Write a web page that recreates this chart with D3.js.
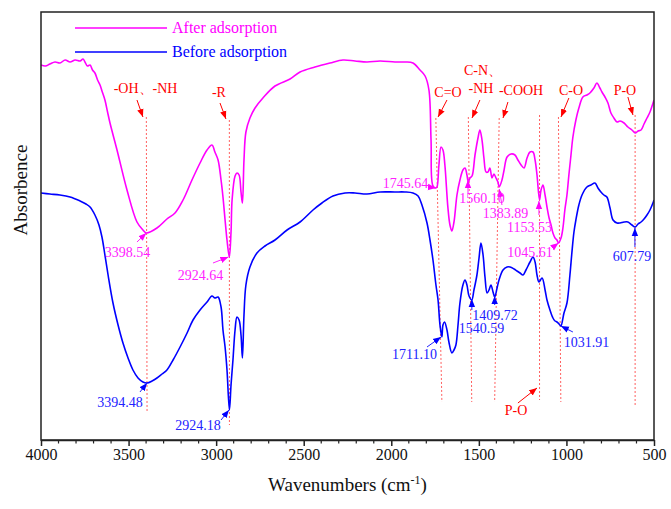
<!DOCTYPE html>
<html>
<head>
<meta charset="utf-8">
<script src="https://cdn.jsdelivr.net/npm/d3@7"></script>
<style>
body { margin: 0; background: #fff; }
text { font-family: "Liberation Serif", "Times New Roman", serif; }
</style>
</head>
<body>
<script>
// spectra: [wavenumber, absorbance (arbitrary units)]
var afterAdsorption = [
  [4000,93.75],[3975,93.5],[3949,94],[3920,94.5],[3892,94.25],[3862,95],[3834,94.5],[3805,95],[3777,94.75],
  [3760,95.25],[3749,94.5],[3735,93.5],[3720,93.75],[3706,92.5],[3692,91.75],[3677,90],[3663,88.75],[3650,87],
  [3635,85],[3620,82],[3606,79.25],[3566,72.5],[3509,62.5],[3452,54.5],[3418,52.5],[3398.54,51.75],[3338,53],
  [3281,55.25],[3235,56.75],[3189,60],[3138,65],[3092,69.25],[3052,72.5],[3024,73.75],[3007,72],[2989,70],
  [2972,65],[2961,60.75],[2949,55],[2938,50],[2924.64,45.75],[2915,52],[2909,60],[2892,66],[2881,66.75],
  [2869,66.25],[2858,62],[2850,59.25],[2841,70],[2830,77],[2807,80.5],[2778,83],[2733,85.5],[2664,88.5],
  [2578,90.25],[2521,92],[2436,93.25],[2350,94.25],[2276,95],[2207,94.75],[2139,94.5],[2064,94.75],[1979,94.5],
  [1922,94.5],[1876,94.25],[1836,92.5],[1807,91],[1785,87.5],[1773,75],[1762,63.5],[1745.64,63],[1739,63.25],
  [1728,68.75],[1716,73.25],[1705,72.5],[1694,68.75],[1677,58.25],[1665,53.75],[1654,52.25],[1642,54.5],
  [1625,61.25],[1608,65],[1591,67.5],[1579,68],[1568,66.25],[1560.10,64.5],[1551,65.5],[1539,66],[1522,71.25],
  [1505,75.5],[1494,77.5],[1482,75],[1471,70.5],[1459,67],[1448,67],[1437,68],[1425,65.5],[1414,66.5],
  [1402,65.5],[1391,64.5],[1383.89,63.25],[1368,65],[1356,67.5],[1339,70.75],[1316,71.5],[1294,71.25],
  [1277,70],[1259,68.75],[1242,68],[1225,70.5],[1208,72],[1191,72],[1179,70],[1168,66.25],[1153.53,60],
  [1145,62.5],[1134,63.75],[1122,61.25],[1111,58.25],[1099,55.5],[1088,53.75],[1077,51.75],[1065,50.5],
  [1054,50],[1045.61,49.25],[1031,50.5],[1020,53],[1009,57.5],[997,61.25],[986,66.25],[974,71.25],[963,75.75],
  [946,80],[929,83],[906,85.75],[883,86.25],[866,86.75],[843,88],[826,89.25],[809,88],[797,87],[780,85.75],
  [763,84.25],[746,81.75],[729,80.5],[711,79.5],[694,79.75],[671,79.25],[649,78.25],[626,77.5],[607,76.75],
  [591,77.25],[574,77.5],[557,79],[540,80.5],[523,82],[511,83.5],[500,85]
]

var beforeAdsorption = [
  [4000,61.75],[3949,61.5],[3892,61.25],[3834,60.75],[3777,59.75],[3743,59],[3720,58.25],[3692,56.25],
  [3669,53.75],[3652,50.75],[3635,46.25],[3617,41.25],[3589,34.25],[3560,28.75],[3532,24.25],[3503,20.5],
  [3475,17.5],[3446,15.5],[3418,14.5],[3394.48,14.25],[3366,14.75],[3338,15.5],[3309,16.5],[3281,17.5],
  [3246,20],[3206,23.25],[3166,26.75],[3132,30],[3092,32.5],[3052,34.5],[3024,36],[3007,35.5],[2989,35.75],
  [2972,33.25],[2961,27.5],[2949,23.25],[2938,17.5],[2924.18,7.5],[2915,13.75],[2904,20],[2892,27.5],
  [2881,30.75],[2869,30],[2858,26.25],[2850,20.5],[2841,31.25],[2830,38.75],[2807,43.25],[2767,46.75],
  [2721,48.5],[2664,50],[2595,52.5],[2521,54.5],[2447,57.5],[2396,59.25],[2333,61],[2264,61.75],[2207,61.75],
  [2139,61.5],[2064,62],[1979,62],[1922,62],[1876,61.75],[1847,61],[1825,58.75],[1796,54.25],[1779,50],
  [1762,45],[1745,38.75],[1733,35],[1722,28.75],[1711.10,25.75],[1705,28.75],[1696,29.5],[1682,27.5],
  [1671,24.5],[1654,21.75],[1642,22.5],[1631,23.75],[1619,28.75],[1608,34.25],[1591,38.75],[1579,40],
  [1568,38.75],[1556,36],[1540.59,35],[1528,37.5],[1511,41.25],[1499,45.5],[1488,49.25],[1476,46.25],
  [1465,40.75],[1453,36.75],[1442,37.5],[1431,38.75],[1419,37],[1409.72,35.75],[1396,38],[1385,40],
  [1362,42.5],[1339,43.25],[1322,43.25],[1299,42.75],[1282,42.25],[1265,41.75],[1248,41.25],[1231,42.5],
  [1208,44.5],[1191,45.75],[1179,44.5],[1168,41.25],[1157,39.5],[1139,40.5],[1122,37.5],[1111,35],
  [1094,32.5],[1077,30.5],[1065,29.75],[1054,29.5],[1042,29],[1031.91,28.5],[1014,31.75],[997,34.25],
  [980,41.25],[969,46.75],[957,52],[946,55],[929,58.75],[911,61.25],[883,63.25],[860,63.75],[837,64.25],
  [820,63],[803,62],[786,61.25],[769,60.75],[751,58],[734,55],[711,54.25],[694,54.25],[671,54.5],[649,54.5],
  [626,53.75],[607.79,53.25],[591,54],[574,54.5],[557,55.25],[540,56.25],[523,57.5],[506,59.25],[500,60]
]

var xTickValues = [4000, 3500, 3000, 2500, 2000, 1500, 1000, 500]
var xMinorTicks = d3.range(4000, 499, -100)

// dashed guide lines: after-adsorption band (top) to before-adsorption band (bottom)
var bandTopWn = [3398.54, 2924.64, 1745.64, 1560.10, 1383.89, 1153.53, 1045.61, 607.79]
var bandBottomWn = [3394.48, 2924.18, 1711.10, 1540.59, 1409.72, 1153.53, 1031.91, 607.79]
var bandTopAbs = [80.75, 80, 80.5, 80.75, 80.5, 81.25, 80.75, 81.25]
var bandBottomAbs = [6.75, 3.75, 9.5, 9.5, 9.5, 10, 9.5, 8.25]

// functional group labels (red)
var groupLabels = [
  { text: "-OH\u3001-NH", wn: 3403, abs: 86.75, from: [3452, 85], to: [3418, 80.75] },
  { text: "-R", wn: 2984, abs: 85.75, from: [2978, 84.25], to: [2944, 80.25] },
  { text: "C=O", wn: 1676, abs: 85.75, from: [1682, 85], to: [1733, 80.75] },
  { text: "C-N\u3001", wn: 1476, abs: 91.25 },
  { text: "-NH", wn: 1488, abs: 86.75, from: [1494, 85], to: [1539, 80.5] },
  { text: "-COOH", wn: 1259, abs: 86.25, from: [1334, 84.5], to: [1362, 80.5] },
  { text: "C-O", wn: 974, abs: 86.25, from: [986, 85.5], to: [1031, 80.75] },
  { text: "P-O", wn: 666, abs: 86.25, from: [649, 85.75], to: [620, 81.25] },
  { text: "P-O", wn: 1288, abs: 6.25, from: [1277, 9.25], to: [1168, 13] }
]

// peak value labels
var afterPeakLabels = [
  { text: "3398.54", wn: 3506, abs: 45.75, from: [3452, 49.5], to: [3398.54, 51.75] },
  { text: "2924.64", wn: 3089, abs: 40, from: [3018, 44.25], to: [2930, 45.75] },
  { text: "1745.64", wn: 1919, abs: 63, from: [1790, 63.25], to: [1745.64, 63] },
  { text: "1560.10", wn: 1482, abs: 59.25, from: [1562, 61.75], to: [1562, 65] },
  { text: "1383.89", wn: 1348, abs: 55.5, from: [1368, 58.75], to: [1384, 62.75] },
  { text: "1153.53", wn: 1211, abs: 52, from: [1157, 56.25], to: [1157, 59.75] },
  { text: "1045.61", wn: 1208, abs: 45.75, from: [1083, 48], to: [1045.61, 49.25] }
]
var beforePeakLabels = [
  { text: "3394.48", wn: 3549, abs: 8.25, from: [3435, 12], to: [3394.48, 14.25] },
  { text: "2924.18", wn: 3104, abs: 2.5, from: [2972, 5], to: [2927, 7.5] },
  { text: "1711.10", wn: 1867, abs: 20.25, from: [1796, 23.25], to: [1716, 25.75] },
  { text: "1540.59", wn: 1485, abs: 26.75, from: [1540, 32.5], to: [1540, 35.25] },
  { text: "1409.72", wn: 1408, abs: 30, from: [1409.72, 33.75], to: [1409.72, 36] },
  { text: "1031.91", wn: 885, abs: 23.25, from: [963, 27], to: [1031.91, 28.5] },
  { text: "607.79", wn: 626, abs: 44.75, from: [609, 48.25], to: [609, 53] }
]

var seriesNames = ["After adsorption", "Before adsorption"]
var seriesColors = ["#ff00ff", "#0000ff"]

var w = 671;
var h = 509;
var plotLeft = 41, plotRight = 654, plotTop = 12, plotBottom = 440;

var xScale = d3.scaleLinear().domain([4000, 500]).range([plotLeft, plotRight])
var yScale = d3.scaleLinear().domain([0, 107]).range([plotBottom, plotTop])

var svg = d3.select("body").append("svg")
  .attr("width", w)
  .attr("height", h)

// arrow heads
var defs = svg.append("defs")
var arrowColors = { red: "#ff0000", after: "#ff00ff", before: "#0000ff" }
Object.keys(arrowColors).forEach(function(k) {
  defs.append("marker")
    .attr("id", "arrow-" + k)
    .attr("viewBox", "0 0 10 10")
    .attr("refX", 10)
    .attr("refY", 5)
    .attr("markerUnits", "userSpaceOnUse")
    .attr("markerWidth", 8)
    .attr("markerHeight", 8)
    .attr("orient", "auto")
    .append("path")
    .attr("d", "M0,1 L10,5 L0,9 z")
    .attr("fill", arrowColors[k])
})

svg.append("clipPath").attr("id", "plot-clip")
  .append("rect")
  .attr("x", plotLeft).attr("y", plotTop)
  .attr("width", plotRight - plotLeft).attr("height", plotBottom - plotTop)

// dashed guide lines
var guides = svg.append("g")
guides.selectAll("line")
  .data(bandTopWn)
  .enter()
  .append("line")
  .attr("x1", function(d) { return xScale(d) })
  .attr("y1", function(d, i) { return yScale(bandTopAbs[i]) })
  .attr("x2", function(d, i) { return xScale(bandBottomWn[i]) })
  .attr("y2", function(d, i) { return yScale(bandBottomAbs[i]) })
  .attr("stroke", "#ff6060")
  .attr("stroke-width", 1)
  .attr("stroke-dasharray", "2,2")

// spectra
var line = d3.line()
  .x(function(d) { return xScale(d[0]) })
  .y(function(d) { return yScale(d[1]) })
  .curve(d3.curveCatmullRom.alpha(0.5))

svg.append("g").attr("clip-path", "url(#plot-clip)")
  .selectAll("path")
  .data([afterAdsorption, beforeAdsorption])
  .enter()
  .append("path")
  .attr("d", line)
  .attr("fill", "none")
  .attr("stroke", function(d, i) { return seriesColors[i] })
  .attr("stroke-width", 1.6)
  .attr("stroke-linejoin", "round")

// labels with arrows
function drawLabels(data, color, marker) {
  var g = svg.append("g")
  g.selectAll("line")
    .data(data.filter(function(d) { return d.from }))
    .enter()
    .append("line")
    .attr("x1", function(d) { return xScale(d.from[0]) })
    .attr("y1", function(d) { return yScale(d.from[1]) })
    .attr("x2", function(d) { return xScale(d.to[0]) })
    .attr("y2", function(d) { return yScale(d.to[1]) })
    .attr("stroke", color)
    .attr("stroke-width", 1)
    .attr("marker-end", "url(#arrow-" + marker + ")")
  g.selectAll("text")
    .data(data)
    .enter()
    .append("text")
    .attr("x", function(d) { return xScale(d.wn) })
    .attr("y", function(d) { return yScale(d.abs) })
    .attr("text-anchor", "middle")
    .attr("font-size", 14)
    .attr("fill", color)
    .text(function(d) { return d.text })
}
drawLabels(groupLabels, "#ff0000", "red")
drawLabels(afterPeakLabels, "#ff22ff", "after")
drawLabels(beforePeakLabels, "#2222ff", "before")

// frame
svg.append("rect")
  .attr("x", plotLeft).attr("y", plotTop)
  .attr("width", plotRight - plotLeft).attr("height", plotBottom - plotTop)
  .attr("fill", "none")
  .attr("stroke", "#222")
  .attr("stroke-width", 1.5)

// x axis
var xAxis = svg.append("g")
  .attr("transform", "translate(0," + plotBottom + ")")
  .call(d3.axisBottom(xScale).tickValues(xTickValues).tickFormat(d3.format("d"))
    .tickSize(6).tickSizeOuter(0).tickPadding(3))
xAxis.select(".domain").attr("stroke", "#222").attr("stroke-width", 1.5)
xAxis.selectAll(".tick line").attr("stroke", "#222").attr("stroke-width", 1.5)
xAxis.selectAll(".tick text")
  .attr("font-family", "Liberation Serif, serif")
  .attr("font-size", 16)
  .attr("fill", "#111")

svg.append("g")
  .attr("transform", "translate(0," + plotBottom + ")")
  .selectAll("line")
  .data(xMinorTicks.filter(function(d) { return xTickValues.indexOf(d) < 0 }))
  .enter()
  .append("line")
  .attr("x1", function(d) { return xScale(d) })
  .attr("x2", function(d) { return xScale(d) })
  .attr("y1", 0)
  .attr("y2", 3.5)
  .attr("stroke", "#222")
  .attr("stroke-width", 1.2)

// axis titles
var xTitle = svg.append("text")
  .attr("x", (plotLeft + plotRight) / 2)
  .attr("y", 491)
  .attr("text-anchor", "middle")
  .attr("font-size", 19)
  .attr("fill", "#111")
xTitle.append("tspan").text("Wavenumbers (cm")
xTitle.append("tspan").attr("dy", -7).attr("font-size", 12).text("-1")
xTitle.append("tspan").attr("dy", 7).text(")")

svg.append("text")
  .attr("transform", "translate(27,190) rotate(-90)")
  .attr("text-anchor", "middle")
  .attr("font-size", 19)
  .attr("fill", "#111")
  .text("Absorbence")

// legend
var legend = svg.append("g")
  .selectAll("g")
  .data(seriesNames)
  .enter()
  .append("g")
  .attr("transform", function(d, i) { return "translate(75," + (28 + i * 24) + ")" })
legend.append("line")
  .attr("x1", 0).attr("x2", 92)
  .attr("stroke", function(d, i) { return seriesColors[i] })
  .attr("stroke-width", 1.6)
legend.append("text")
  .attr("x", 97)
  .attr("y", 5)
  .attr("font-size", 16)
  .attr("fill", function(d, i) { return seriesColors[i] })
  .text(function(d) { return d })
</script>
</body>
</html>
